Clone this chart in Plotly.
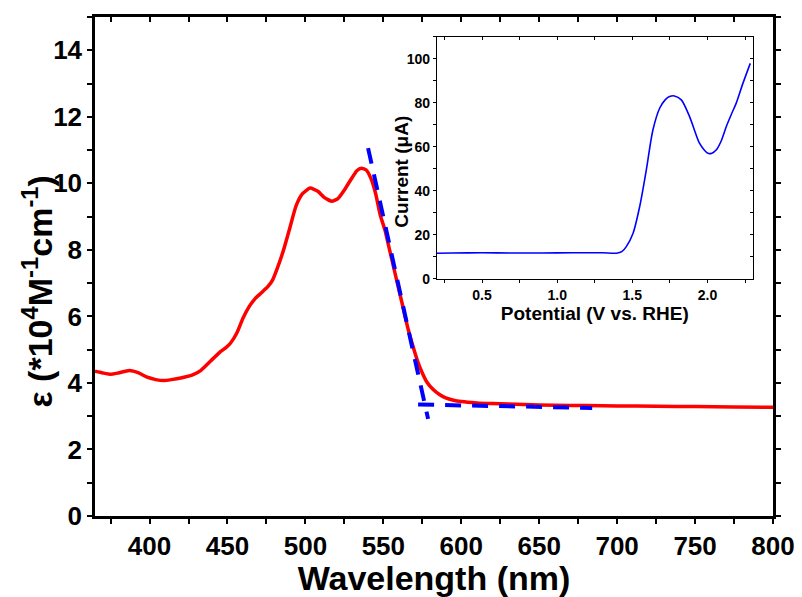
import plotly.graph_objects as go

# Molar absorptivity spectrum (x 10^4 M^-1 cm^-1)
wavelength_nm = [365, 370, 375, 380, 387, 393, 398, 404, 409, 414, 420, 428, 433, 439,
                 445, 449, 452, 456, 460, 464, 468, 472, 476, 479, 482, 486, 490, 494, 498,
                 503, 508, 512, 517, 521, 525, 529, 533, 536, 539, 542, 545,
                 548, 551, 554, 557, 560, 563, 566, 569, 572, 575, 578, 582, 586, 590,
                 595, 600, 610, 620, 640, 660, 680, 700, 725, 750, 775, 800]
epsilon = [4.35, 4.30, 4.26, 4.30, 4.37, 4.30, 4.18, 4.10, 4.07, 4.10, 4.15, 4.25, 4.38, 4.65,
           4.92, 5.06, 5.20, 5.50, 5.95, 6.30, 6.55, 6.72, 6.90, 7.10, 7.45, 8.00, 8.66, 9.32, 9.68,
           9.86, 9.76, 9.58, 9.46, 9.55, 9.80, 10.10, 10.38, 10.45, 10.40, 10.15, 9.70,
           9.05, 8.60, 8.00, 7.40, 6.80, 6.20, 5.60, 5.10, 4.65, 4.30, 4.02, 3.80, 3.65, 3.55,
           3.48, 3.44, 3.40, 3.38, 3.35, 3.33, 3.32, 3.31, 3.30, 3.29, 3.28, 3.27]

# Band-edge construction: tangent to the falling edge and the baseline
tangent_x = [540.2, 578.7]
tangent_y = [11.06, 2.92]
baseline_x = [572.3, 684.0]
baseline_y = [3.35, 3.25]

# Inset: linear sweep voltammogram
potential_v = [0.20, 0.30, 0.50, 0.70, 0.90, 1.10, 1.30, 1.394, 1.43, 1.46, 1.505, 1.549,
               1.593, 1.637, 1.682, 1.720, 1.748, 1.780, 1.826, 1.881, 1.947, 1.980,
               2.003, 2.030, 2.058, 2.090, 2.125, 2.160, 2.191, 2.236, 2.285]
current_ua = [11.7, 11.8, 11.9, 11.8, 11.8, 11.9, 11.9, 11.7, 12.4, 14.7, 20.8, 32.9,
              49.5, 67.7, 77.6, 81.5, 82.9, 83.2, 81.4, 73.8, 61.7, 58.5,
              57.1, 57.2, 58.6, 62.5, 69.2, 75.0, 79.8, 88.9, 98.0]

X_RANGE = [365, 800]
X_TICKS = [400, 450, 500, 550, 600, 650, 700, 750, 800]
Y_RANGE = [0, 15]
Y_TICKS = [0, 2, 4, 6, 8, 10, 12, 14]
IX_RANGE = [0.2, 2.3]
IX_TICKS = [0.5, 1.0, 1.5, 2.0]
IY_RANGE = [0, 110]
IY_TICKS = [0, 20, 40, 60, 80, 100]

FONT = "Liberation Sans, Arial, sans-serif"
INSET_X_DOMAIN = [0.5044, 0.9698]
INSET_Y_DOMAIN = [0.475, 0.96]

fig = go.Figure()

fig.add_trace(go.Scatter(x=wavelength_nm, y=epsilon, mode="lines",
                         line=dict(color="#ff0000", width=3.5, shape="spline", smoothing=0.5),
                         xaxis="x", yaxis="y", showlegend=False))
fig.add_trace(go.Scatter(x=tangent_x, y=tangent_y, mode="lines",
                         line=dict(color="#0000ff", width=4, dash="16px,11px"),
                         xaxis="x", yaxis="y", showlegend=False))
fig.add_trace(go.Scatter(x=baseline_x, y=baseline_y, mode="lines",
                         line=dict(color="#0000ff", width=4, dash="16px,11px"),
                         xaxis="x", yaxis="y", showlegend=False))
fig.add_trace(go.Scatter(x=potential_v, y=current_ua, mode="lines",
                         line=dict(color="#0000ff", width=1.6, shape="spline", smoothing=0.8),
                         xaxis="x2", yaxis="y2", showlegend=False))

# Invisible traces so the tick-only frame axes are drawn
fig.add_trace(go.Scatter(x=X_RANGE, y=Y_RANGE, mode="none", hoverinfo="skip",
                         xaxis="x3", yaxis="y", showlegend=False))
fig.add_trace(go.Scatter(x=IX_RANGE, y=IY_RANGE, mode="none", hoverinfo="skip",
                         xaxis="x4", yaxis="y3", showlegend=False))

main_tick_font = dict(family=FONT, size=26, color="black", weight="bold")
main_title_font = dict(family=FONT, size=34, color="black", weight="bold")
inset_tick_font = dict(family=FONT, size=14, color="black", weight="bold")
inset_title_font = dict(family=FONT, size=19, color="black", weight="bold")


def major_minor(length, width, dtick):
    return dict(ticks="outside", ticklen=length, tickwidth=width, tickcolor="black",
                minor=dict(dtick=dtick, tick0=0, ticks="outside", ticklen=length,
                           tickwidth=width, tickcolor="black"),
                automargin=False)


def inside_only(length, width, dtick):
    return dict(ticks="inside", ticklen=length, tickwidth=width, tickcolor="black",
                minor=dict(dtick=dtick, tick0=0, ticks="inside", ticklen=length,
                           tickwidth=width, tickcolor="black"),
                showticklabels=False, showline=False, showgrid=False, zeroline=False,
                automargin=False)


fig.update_layout(
    width=802, height=597,
    margin=dict(l=95, r=29, t=17, b=81, autoexpand=False),
    paper_bgcolor="white", plot_bgcolor="white",
    xaxis=dict(range=X_RANGE, tickmode="array", tickvals=X_TICKS,
               **major_minor(5, 2, 25),
               showline=True, linewidth=2.5, linecolor="black", mirror=True,
               showgrid=False, zeroline=False, tickfont=main_tick_font,
               title=dict(text="Wavelength (nm)", font=main_title_font, standoff=2)),
    yaxis=dict(range=Y_RANGE, tickmode="array", tickvals=Y_TICKS,
               **major_minor(5, 2, 1),
               showline=True, linewidth=2.5, linecolor="black", mirror="ticks",
               showgrid=False, zeroline=False, tickfont=main_tick_font),
    # top frame of the main panel with inward ticks
    xaxis3=dict(range=X_RANGE, overlaying="x", side="top", anchor="y",
                tickmode="array", tickvals=X_TICKS, **inside_only(5, 2, 25)),
    xaxis2=dict(domain=INSET_X_DOMAIN, anchor="y2", range=IX_RANGE,
                tickmode="array", tickvals=IX_TICKS, ticktext=["0.5", "1.0", "1.5", "2.0"],
                **major_minor(3, 1, 0.25),
                showline=True, linewidth=1.3, linecolor="black", mirror=True,
                showgrid=False, zeroline=False, tickfont=inset_tick_font,
                title=dict(text="Potential (V vs. RHE)", font=inset_title_font, standoff=0)),
    yaxis2=dict(domain=INSET_Y_DOMAIN, anchor="x2", range=IY_RANGE,
                tickmode="array", tickvals=IY_TICKS,
                **major_minor(3, 1, 10),
                showline=True, linewidth=1.3, linecolor="black", mirror=True,
                showgrid=False, zeroline=False, tickfont=inset_tick_font),
    # top and right frame of the inset with inward ticks
    xaxis4=dict(range=IX_RANGE, overlaying="x2", anchor="y2", side="top",
                tickmode="array", tickvals=IX_TICKS, **inside_only(3, 1, 0.25)),
    yaxis3=dict(range=IY_RANGE, overlaying="y2", anchor="x2", side="right",
                tickmode="array", tickvals=IY_TICKS, **inside_only(3, 1, 10)),
    annotations=[
        dict(text="ε (*10<sup>4</sup>M<sup>-1</sup>cm<sup>-1</sup>)",
             xref="paper", yref="paper", x=-0.0855, y=0.45,
             xanchor="center", yanchor="middle", textangle=-90,
             showarrow=False, font=main_title_font),
        dict(text="Current (μA)",
             xref="paper", yref="paper", x=0.4528, y=0.69,
             xanchor="center", yanchor="middle", textangle=-90,
             showarrow=False, font=inset_title_font),
    ],
)

fig.write_html("out.html")
